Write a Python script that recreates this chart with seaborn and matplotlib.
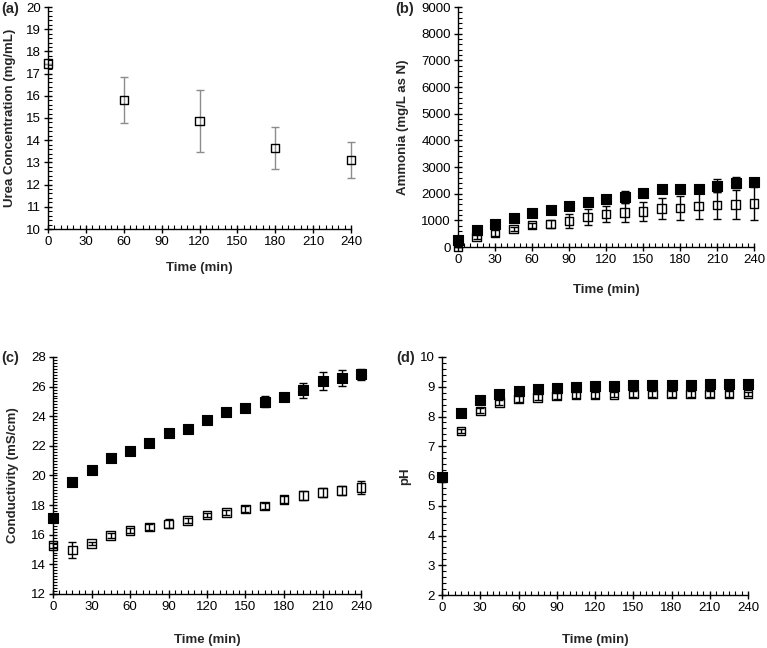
import matplotlib
matplotlib.use("Agg")
import matplotlib.pyplot as plt
import seaborn as sns
import numpy as np
import pandas as pd
from matplotlib.ticker import MultipleLocator

# ---------------- data ----------------
time_a = [0, 60, 120, 180, 240]
urea = [17.45, 15.82, 14.85, 13.65, 13.12]
urea_err = [0.0, 1.03, 1.40, 0.95, 0.82]

time = [0, 15, 30, 45, 60, 75, 90, 105, 120, 135, 150, 165, 180, 195, 210, 225, 240]

nh3_filled = [262, 637, 862, 1075, 1262, 1387, 1537, 1675, 1800, 1887, 2025, 2190, 2175, 2190, 2300, 2412, 2440]
nh3_filled_err = [30, 40, 50, 60, 60, 50, 80, 60, 60, 225, 60, 100, 80, 60, 240, 200, 60]
nh3_open = [20, 363, 525, 675, 813, 862, 975, 1130, 1226, 1293, 1337, 1444, 1462, 1526, 1569, 1593, 1631]
nh3_open_err = [20, 80, 100, 90, 100, 150, 250, 290, 300, 345, 360, 405, 450, 487, 506, 543, 619]

cond_filled = [17.10, 19.56, 20.35, 21.20, 21.68, 22.17, 22.87, 23.14, 23.77, 24.29, 24.53, 24.98, 25.32, 25.74, 26.38, 26.60, 26.82]
cond_filled_err = [0.1, 0.1, 0.1, 0.1, 0.1, 0.1, 0.1, 0.1, 0.1, 0.1, 0.1, 0.36, 0.2, 0.5, 0.58, 0.54, 0.38]
cond_open = [15.26, 14.97, 15.42, 15.96, 16.28, 16.52, 16.73, 16.95, 17.33, 17.49, 17.74, 17.94, 18.39, 18.64, 18.86, 19.00, 19.20]
cond_open_err = [0.15, 0.53, 0.12, 0.15, 0.15, 0.2, 0.3, 0.15, 0.15, 0.15, 0.2, 0.2, 0.25, 0.3, 0.3, 0.3, 0.42]

ph_filled = [5.95, 8.13, 8.55, 8.75, 8.86, 8.92, 8.97, 9.00, 9.02, 9.03, 9.06, 9.07, 9.07, 9.07, 9.09, 9.09, 9.09]
ph_filled_err = [0.05] * 17
ph_open = [5.93, 7.51, 8.19, 8.47, 8.59, 8.64, 8.69, 8.72, 8.73, 8.74, 8.75, 8.75, 8.75, 8.75, 8.76, 8.76, 8.76]
ph_open_err = [0.05, 0.08, 0.08, 0.1, 0.1, 0.1, 0.1, 0.1, 0.1, 0.1, 0.1, 0.1, 0.1, 0.1, 0.1, 0.1, 0.06]

# ---------------- style ----------------
sns.set_style("ticks")
plt.rcParams['font.family'] = ['Liberation Sans', 'DejaVu Sans']
plt.rcParams['axes.linewidth'] = 1.0

fig = plt.figure(figsize=(7.67, 6.48), dpi=100)
W, H = 767.0, 648.0


def make_ax(l, r, t, b):
    return fig.add_axes([l / W, 1 - b / H, (r - l) / W, (b - t) / H])


ax_a = make_ax(48, 351, 7, 229)
ax_b = make_ax(458, 754, 7, 247)
ax_c = make_ax(53, 361, 357, 594)
ax_d = make_ax(442, 748, 357, 595)


def series(ax, x, y, err, filled, size, ecolor='black'):
    ax.errorbar(x, y, yerr=err, fmt='none', ecolor=ecolor, elinewidth=1.0,
                capsize=3, capthick=1.0, zorder=2, clip_on=False)
    df = pd.DataFrame({'x': x, 'y': y})
    if filled:
        sns.scatterplot(data=df, x='x', y='y', marker='s', s=size, color='black',
                        edgecolor='black', linewidth=0.8, ax=ax, zorder=4, clip_on=False)
    else:
        sns.scatterplot(data=df, x='x', y='y', marker='s', s=size, facecolor='none',
                        edgecolor='black', linewidth=1.0, ax=ax, zorder=3, clip_on=False)


series(ax_a, time_a, urea, urea_err, False, 36, ecolor='#8c8c8c')
series(ax_b, time, nh3_open, nh3_open_err, False, 36)
series(ax_b, time, nh3_filled, nh3_filled_err, True, 44)
series(ax_c, time, cond_open, cond_open_err, False, 38)
series(ax_c, time, cond_filled, cond_filled_err, True, 44)
series(ax_d, time, ph_open, ph_open_err, False, 38)
series(ax_d, time, ph_filled, ph_filled_err, True, 44)

specs = [
    (ax_a, (10, 20), 1, 0.2, 'Urea Concentration (mg/mL)', -0.106, -0.149),
    (ax_b, (0, 9000), 1000, 200, 'Ammonia (mg/L as N)', -0.166, -0.154),
    (ax_c, (12, 28), 2, 0.2, 'Conductivity (mS/cm)', -0.110, -0.169),
    (ax_d, (2, 10), 1, 0.2, 'pH', -0.101, -0.164),
]
for ax, ylim, ymaj, ymin, ylab, ylx, xly in specs:
    ax.set_xlim(0, 240)
    ax.set_ylim(*ylim)
    ax.xaxis.set_major_locator(MultipleLocator(30))
    ax.xaxis.set_minor_locator(MultipleLocator(5))
    ax.yaxis.set_major_locator(MultipleLocator(ymaj))
    ax.yaxis.set_minor_locator(MultipleLocator(ymin))
    ax.tick_params(which='major', direction='inout', length=6, width=1.0,
                   labelsize=9.5, color='black', labelcolor='black', pad=2)
    ax.tick_params(which='minor', direction='in', length=3, width=0.8, color='black')
    for s in ['top', 'right']:
        ax.spines[s].set_visible(False)
    for s in ['left', 'bottom']:
        ax.spines[s].set_color('black')
    ax.set_xlabel('Time (min)', fontsize=9.5, fontweight='bold')
    ax.set_ylabel(ylab, fontsize=9.5, fontweight='bold')
    ax.yaxis.set_label_coords(ylx, 0.5)
    ax.xaxis.set_label_coords(0.5, xly)

for lab, x, y in [('(a)', 1, 9), ('(b)', 395, 9), ('(c)', 1, 358), ('(d)', 396, 358)]:
    fig.text(x / W, 1 - y / H, lab, fontsize=10.5, fontweight='bold', ha='left', va='center')

fig.savefig('out.png', dpi=100)
